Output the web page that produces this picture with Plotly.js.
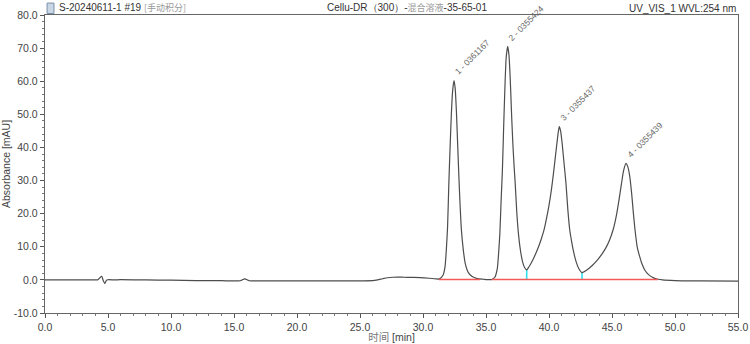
<!DOCTYPE html>
<html>
<head>
<meta charset="utf-8">
<script src="https://cdn.plot.ly/plotly-3.0.1.min.js"></script>
<style>html,body{margin:0;padding:0;background:#fff;}#chart{width:750px;height:344px;}</style>
</head>
<body>
<div id="chart"></div>
<script>
// Chromatogram trace (time in min, absorbance in mAU)
const time = [
  0,1,2,3,4,4.2,4.35,4.5,4.62,4.75,4.9,5.5,6,8,10,12,14,15.5,15.85,16.2,17,20,22,24,26,26.4,26.8,27.2,27.6,28,28.5,29,29.8,30.5,31.0,
  31.3,31.6,31.75,31.85,31.95,32.05,32.15,32.25,32.35,32.46,32.55,32.65,32.75,32.85,32.95,33.05,33.2,33.35,33.6,33.9,34.3,34.8,35.1,
  35.45,35.7,35.9,36.0,36.1,36.2,36.3,36.4,36.5,36.6,36.72,36.82,36.92,37.02,37.12,37.22,37.32,37.45,37.6,37.75,37.9,38.05,38.23,
  38.4,38.6,38.8,39.0,39.2,39.4,39.6,39.8,40.0,40.2,40.35,40.5,40.65,40.75,40.82,40.92,41.05,41.2,41.35,41.5,41.65,41.8,41.95,42.15,42.35,42.62,
  42.8,43.0,43.3,43.6,43.9,44.2,44.5,44.8,45.1,45.35,45.55,45.75,45.92,46.11,46.25,46.4,46.55,46.7,46.83,47.0,47.2,47.36,47.6,47.9,48.3,48.65,
  49,50,52,55
];
const absorbance = [
  0,0,0,0,0,0.05,0.6,1.1,-0.2,-1.1,0,0,0.05,0,-0.1,-0.2,-0.25,-0.25,0.3,-0.25,-0.3,-0.3,-0.3,-0.3,-0.25,0.0,0.35,0.65,0.8,0.85,0.8,0.75,0.7,0.5,0.3,
  0.3,1.5,4,9,16,29,40,50,57,60.2,58,51,41,31,22,15,9,5,2.2,1,0.4,0.2,0.1,
  0.1,0.8,3.5,8,14,24,33,46,58,67,70.5,68,61,51,42,35,29,20,13,8.5,5.5,3.8,3.0,
  3.9,5.2,6.7,8.4,10.3,12.5,15,18.5,22.5,27.5,32,37,42,45,46.3,45,41,35,29,21,15,11.5,8.5,5.5,3.5,2.2,
  2.5,3.0,3.9,5,6.3,7.8,9.6,12,15.3,19.5,24,29,33,35.2,34.2,31.5,26.5,20,15,10,7,5,3,1.6,0.6,0.2,
  0.0,-0.2,-0.3,-0.4
];

// Integration baselines (red)
const baseStart = [31.27, 35.45];
const baseEnd   = [34.52, 48.65];
const baseLevel = [0.1, 0.1];

// Peak separation drops (cyan)
const dropTime   = [38.23, 42.62];
const dropHeight = [3.0, 2.2];

// Peak labels
const peakLabels = ["1 - 0361167", "2 - 0355424", "3 - 0355437", "4 - 0355439"];
const peakTime   = [32.46, 36.72, 40.82, 46.11];
const peakHeight = [60.2, 70.5, 46.3, 35.2];

// Axis ticks
const yTicks = [-10, 0, 10, 20, 30, 40, 50, 60, 70, 80];
const xTicks = [0, 5, 10, 15, 20, 25, 30, 35, 40, 45, 50, 55];

const traces = [];
for (let i = 0; i < dropTime.length; i++) {
  traces.push({x: [dropTime[i], dropTime[i]], y: [0, dropHeight[i]], mode: 'lines',
    line: {color: '#2ee0ee', width: 1.6}, hoverinfo: 'skip', showlegend: false});
}
traces.push({x: time, y: absorbance, mode: 'lines', line: {color: '#4d4d4d', width: 1.2, shape: 'spline', smoothing: 0.6},
  hoverinfo: 'skip', showlegend: false});
for (let i = 0; i < baseStart.length; i++) {
  traces.push({x: [baseStart[i], baseEnd[i]], y: [baseLevel[i], baseLevel[i]], mode: 'lines',
    line: {color: '#f25a5a', width: 1.4}, hoverinfo: 'skip', showlegend: false});
}

const annotations = peakLabels.map((t, i) => ({
  x: peakTime[i], y: peakHeight[i], xref: 'x', yref: 'y', text: t, showarrow: false,
  textangle: -45, xanchor: 'left', yanchor: 'bottom', xshift: -4, yshift: 1,
  font: {family: 'Liberation Sans, Arial, sans-serif', size: 8.5, color: '#666'}
}));

const cjk = s => '<span style="color:#999;font-family:Noto Sans CJK SC;font-size:9px">' + s + '</span>';
const headFont = {family: 'Liberation Sans, Arial, sans-serif', size: 10, color: '#333'};
annotations.push(
  {xref: 'paper', yref: 'paper', x: 0, y: 1, yshift: -1, xshift: 12, xanchor: 'left', yanchor: 'bottom', showarrow: false,
   text: 'S-20240611-1 #19 ' + cjk('[手动积分]'), font: headFont},
  {xref: 'paper', yref: 'paper', x: 0.522, y: 1, yshift: -1, xanchor: 'center', yanchor: 'bottom', showarrow: false,
   text: 'Cellu-DR（300）-' + cjk('混合溶液') + '-35-65-01', font: headFont},
  {xref: 'paper', yref: 'paper', x: 1, y: 1, yshift: -1, xanchor: 'right', yanchor: 'bottom', showarrow: false,
   text: 'UV_VIS_1 WVL:254 nm', font: headFont}
);

const tickFont = {family: 'Liberation Sans, Arial, sans-serif', size: 10.5, color: '#444'};
const layout = {
  width: 750, height: 344,
  margin: {l: 45, r: 12, t: 15, b: 31},
  paper_bgcolor: '#fff', plot_bgcolor: '#fff',
  xaxis: {
    range: [0, 55], tickvals: xTicks, ticktext: xTicks.map(v => v.toFixed(1)),
    ticks: 'outside', ticklen: 4, tickcolor: '#555', tickwidth: 1,
    minor: {dtick: 1, ticks: 'outside', ticklen: 2, tickcolor: '#777', showgrid: false},
    showgrid: false, zeroline: false, showline: true, mirror: true, linecolor: '#666', linewidth: 1.2,
    tickfont: tickFont,
    title: {text: '<span style="font-family:Noto Sans CJK SC;color:#777">时间</span> [min]', font: tickFont, standoff: 2}
  },
  yaxis: {
    range: [-10, 80], tickvals: yTicks, ticktext: yTicks.map(v => v.toFixed(1)),
    ticks: 'outside', ticklen: 4, tickcolor: '#555', tickwidth: 1,
    minor: {dtick: 2, ticks: 'outside', ticklen: 2, tickcolor: '#777', showgrid: false},
    showgrid: false, zeroline: false, showline: true, mirror: true, linecolor: '#666', linewidth: 1.2,
    tickfont: tickFont,
    title: {text: 'Absorbance [mAU]', font: {family: 'Liberation Sans, Arial, sans-serif', size: 10.5, color: '#444'}, standoff: 4}
  },
  annotations: annotations,
  shapes: [
    // small document icon before the sample name
    {type: 'rect', xref: 'paper', yref: 'paper', x0: 0.003, x1: 0.013, y0: 1.005, y1: 1.04,
     line: {color: '#7a8fa8', width: 1}, fillcolor: '#c9d6e6'}
  ]
};

Plotly.newPlot('chart', traces, layout, {staticPlot: true, displayModeBar: false});
</script>
</body>
</html>
